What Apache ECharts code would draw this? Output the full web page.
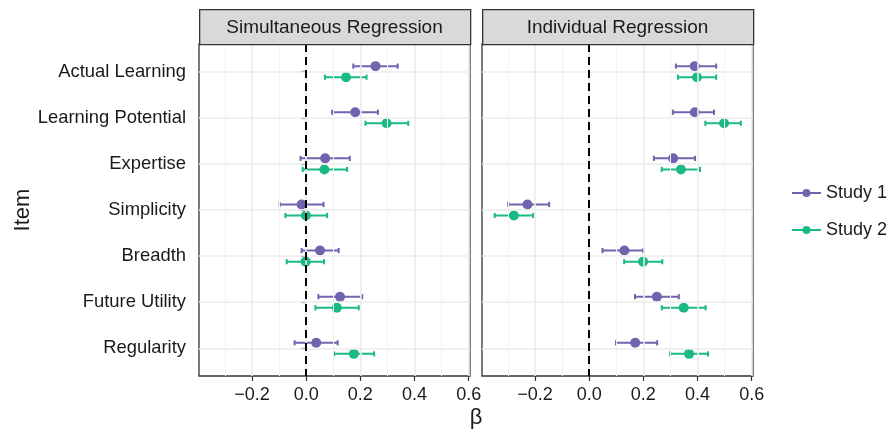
<!DOCTYPE html>
<html><head><meta charset="utf-8">
<script src="https://cdn.jsdelivr.net/npm/echarts@6/dist/echarts.min.js"></script>
<style>html,body{margin:0;padding:0;background:#fff}#c{width:891px;height:433px}</style>
</head><body><div id="c"></div>
<script>
// ---------- data ----------
const categories = ['Actual Learning','Learning Potential','Expertise','Simplicity','Breadth','Future Utility','Regularity'];
const panelTitles = ['Simultaneous Regression','Individual Regression'];
const studyNames = ['Study 1','Study 2'];
const xTickValues = [-0.2, 0, 0.2, 0.4, 0.6];
const xMinorValues = [-0.3, -0.1, 0.1, 0.3, 0.5];
const xLabelText = 'β';
const yLabelText = 'Item';

const simStudy1Est = [0.256, 0.181, 0.070, -0.017, 0.051, 0.125, 0.037];
const simStudy1Lo  = [0.174, 0.096, -0.021, -0.098, -0.017, 0.045, -0.043];
const simStudy1Hi  = [0.338, 0.265, 0.161, 0.064, 0.120, 0.207, 0.116];
const simStudy2Est = [0.147, 0.297, 0.067, -0.001, -0.002, 0.113, 0.176];
const simStudy2Lo  = [0.069, 0.219, -0.013, -0.077, -0.072, 0.034, 0.103];
const simStudy2Hi  = [0.223, 0.377, 0.151, 0.077, 0.066, 0.194, 0.251];

const indStudy1Est = [0.390, 0.390, 0.310, -0.228, 0.130, 0.250, 0.170];
const indStudy1Lo  = [0.320, 0.309, 0.239, -0.299, 0.049, 0.169, 0.099];
const indStudy1Hi  = [0.469, 0.461, 0.391, -0.148, 0.200, 0.331, 0.251];
const indStudy2Est = [0.398, 0.498, 0.339, -0.278, 0.199, 0.349, 0.369];
const indStudy2Lo  = [0.328, 0.429, 0.268, -0.349, 0.129, 0.268, 0.299];
const indStudy2Hi  = [0.469, 0.560, 0.409, -0.207, 0.270, 0.430, 0.439];

// ---------- styling / layout ----------
const FONT = "'Liberation Sans', Arial, Helvetica, sans-serif";
const colors = ['#7064ae', '#1bb985'];
const panelLeft = [199, 482];
const panelWidth = 271;
const panelTop = 44, panelHeight = 332;
const stripTop = 9, stripHeight = 35;
const xMin = -0.396, xMax = 0.605;
const yMin = 0.4, yMax = 7.6;
const dodge = 0.12;

const panelData = [
  [[simStudy1Est, simStudy1Lo, simStudy1Hi], [simStudy2Est, simStudy2Lo, simStudy2Hi]],
  [[indStudy1Est, indStudy1Lo, indStudy1Hi], [indStudy2Est, indStudy2Lo, indStudy2Hi]]
];
const catPos = categories.map((c, i) => i + 1);

const fmtX = v => (v < 0 ? '\u2212' : '') + Math.abs(v).toFixed(1);

const grids = [], xAxes = [], yAxes = [], series = [], graphics = [];
panelTitles.forEach((title, p) => {
  grids.push({left: panelLeft[p], top: panelTop, width: panelWidth, height: panelHeight,
    show: true, borderColor: '#333333', borderWidth: 1.3, backgroundColor: '#ffffff'});
  xAxes.push({type: 'value', gridIndex: p, min: xMin, max: xMax,
    axisLine: {show: false},
    axisTick: {show: true, customValues: xTickValues, length: 5, lineStyle: {color: '#333333', width: 1.2}},
    axisLabel: {customValues: xTickValues, formatter: fmtX, margin: 10, color: '#1a1a1a', fontSize: 18, fontFamily: FONT},
    splitLine: {show: false}});
  yAxes.push({type: 'value', gridIndex: p, min: yMin, max: yMax, inverse: true,
    axisLine: {show: false},
    axisTick: {show: p === 0, customValues: catPos, length: 5, lineStyle: {color: '#333333', width: 1.2}},
    axisLabel: {show: p === 0, customValues: catPos, formatter: v => categories[Math.round(v) - 1] || '',
      margin: 13, color: '#1a1a1a', fontSize: 18.4, fontFamily: FONT},
    splitLine: {show: false}});

  // grid lines
  series.push({type: 'scatter', xAxisIndex: p, yAxisIndex: p, data: [], silent: true, z: 1,
    markLine: {silent: true, symbol: ['none', 'none'], label: {show: false}, animation: false,
      data: [
        ...xMinorValues.map(v => ({xAxis: v, lineStyle: {color: '#f2f2f2', width: 1, type: 'solid'}})),
        ...xTickValues.map(v => ({xAxis: v, lineStyle: {color: '#ebebeb', width: 1.6, type: 'solid'}})),
        ...catPos.map(v => ({yAxis: v, lineStyle: {color: '#ebebeb', width: 1.6, type: 'solid'}}))
      ]}});
  // zero reference line
  series.push({type: 'scatter', xAxisIndex: p, yAxisIndex: p, data: [], silent: true, z: 2,
    markLine: {silent: true, symbol: ['none', 'none'], label: {show: false}, animation: false,
      data: [{xAxis: 0, lineStyle: {color: '#000000', width: 2, type: [8, 5]}}]}});

  studyNames.forEach((name, s) => {
    const [est, lo, hi] = panelData[p][s];
    const off = s === 0 ? -dodge : dodge;
    series.push({type: 'custom', name: name + ' CI', xAxisIndex: p, yAxisIndex: p, z: 3, silent: true,
      data: categories.map((c, i) => [lo[i], hi[i], catPos[i] + off]),
      renderItem: (params, api) => {
        const a = api.coord([api.value(0), api.value(2)]);
        const b = api.coord([api.value(1), api.value(2)]);
        const h = 2.6;
        const st = {stroke: colors[s], lineWidth: 2};
        return {type: 'group', children: [
          {type: 'line', shape: {x1: a[0], y1: a[1], x2: b[0], y2: b[1]}, style: st},
          {type: 'line', shape: {x1: a[0], y1: a[1] - h, x2: a[0], y2: a[1] + h}, style: st},
          {type: 'line', shape: {x1: b[0], y1: b[1] - h, x2: b[0], y2: b[1] + h}, style: st}
        ]};
      }});
    series.push({type: 'line', name: name, xAxisIndex: p, yAxisIndex: p, z: 4,
      data: categories.map((c, i) => [est[i], catPos[i] + off]),
      symbol: 'circle', symbolSize: 10, showSymbol: true,
      lineStyle: {width: 0, opacity: 0}, itemStyle: {color: colors[s], opacity: 1},
      emphasis: {disabled: true}});
  });

  graphics.push({type: 'rect', left: panelLeft[p], top: stripTop,
    shape: {width: panelWidth, height: stripHeight},
    style: {fill: '#d9d9d9', stroke: '#333333', lineWidth: 1.3}, z: 10});
  graphics.push({type: 'text', x: panelLeft[p] + panelWidth / 2, y: stripTop + stripHeight / 2 + 1,
    style: {text: title, fill: '#1a1a1a', font: '19px ' + FONT, textAlign: 'center', textVerticalAlign: 'middle'}, z: 11});
});

graphics.push({type: 'text', x: (panelLeft[0] + panelLeft[1] + panelWidth) / 2, y: 418,
  style: {text: xLabelText, fill: '#1a1a1a', font: '22px ' + FONT, textAlign: 'center', textVerticalAlign: 'middle'}});
graphics.push({type: 'text', x: 23, y: panelTop + panelHeight / 2, rotation: Math.PI / 2,
  style: {text: yLabelText, fill: '#1a1a1a', font: '22px ' + FONT, textAlign: 'center', textVerticalAlign: 'middle'}});

const chart = echarts.init(document.getElementById('c'), null, {renderer: 'canvas'});
chart.setOption({
  animation: false,
  backgroundColor: '#ffffff',
  grid: grids, xAxis: xAxes, yAxis: yAxes, series: series,
  legend: {data: studyNames, orient: 'vertical', left: 791, top: 184, padding: 0, itemWidth: 29, itemHeight: 10, itemGap: 19,
    selectedMode: false, lineStyle: {width: 2, opacity: 1},
    textStyle: {fontSize: 18, fontFamily: FONT, color: '#1a1a1a'}},
  graphic: graphics
});
</script></body></html>
